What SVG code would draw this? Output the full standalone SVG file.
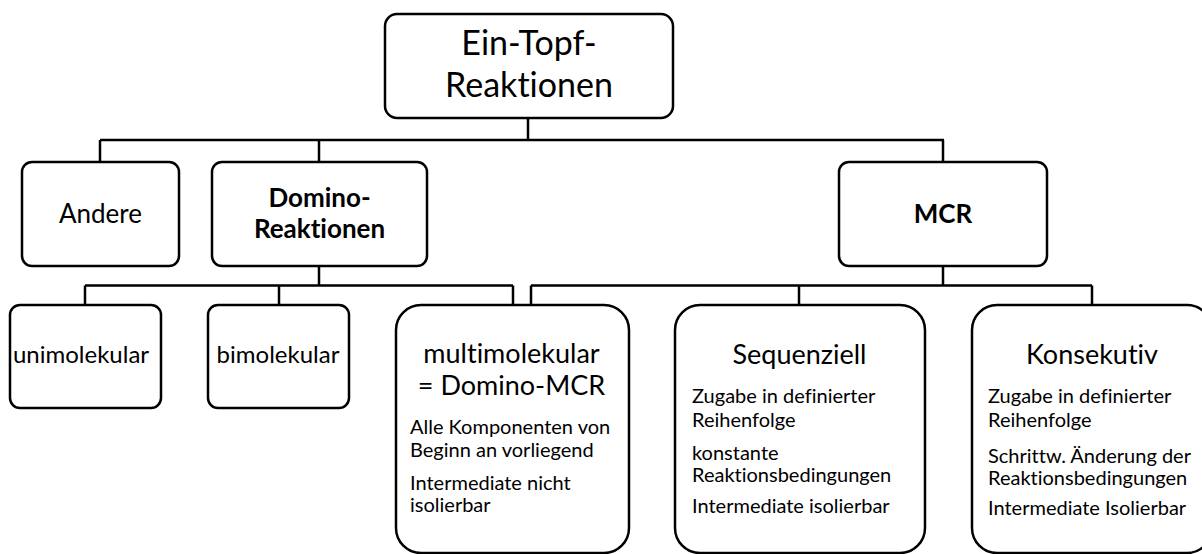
<svg xmlns="http://www.w3.org/2000/svg" width="1202" height="554" viewBox="0 0 1202 554">
<style>
.box{fill:#fff;stroke:#000;stroke-width:2.5}
.con{fill:none;stroke:#000;stroke-width:2.5}
text{font-family:Lato,"Open Sans","Liberation Sans",sans-serif;fill:#000;font-variant-ligatures:none;font-feature-settings:"liga" 0,"clig" 0}
.c{text-anchor:middle}
.t1{font-size:34px}
.t2{font-size:26px}
.b{font-size:26px;font-weight:bold}
.s{font-size:24px}
.h{font-size:27px}
.p{font-size:20px}
</style>
<rect width="1202" height="554" fill="#fff"/>
<g id="connectors">
<path class="con" d="M528,118V140M100,140H944M100,140V162M319,140V162M943,140V162"/>
<path class="con" d="M319,266V285.5M85,285.5H513M85,285.5V305M279,285.5V305M513,285.5V305"/>
<path class="con" d="M943,266V285.5M531,285.5H1092M531,285.5V305M799,285.5V305M1092,285.5V305"/>
</g>
<g id="n-eintopf">
<rect class="box" x="385" y="14" width="288" height="104" rx="12"/>
<text class="c t1" x="529" y="55">Ein-Topf-</text>
<text class="c t1" x="529" y="97">Reaktionen</text>
</g>
<g id="n-andere">
<rect class="box" x="22" y="162" width="157" height="104" rx="10"/>
<text class="c t2" x="100.5" y="223">Andere</text>
</g>
<g id="n-domino">
<rect class="box" x="212" y="162" width="215" height="104" rx="10"/>
<text class="c b" x="319.5" y="207">Domino-</text>
<text class="c b" x="319.5" y="238">Reaktionen</text>
</g>
<g id="n-mcr">
<rect class="box" x="839" y="162" width="208" height="104" rx="10"/>
<text class="c b" x="943" y="223">MCR</text>
</g>
<g id="n-uni">
<rect class="box" x="10" y="305" width="151" height="103" rx="10"/>
<text class="c s" x="81" y="363">unimolekular</text>
</g>
<g id="n-bi">
<rect class="box" x="208" y="305" width="141" height="103" rx="10"/>
<text class="c s" x="278" y="363">bimolekular</text>
</g>
<g id="n-multi">
<rect class="box" x="396" y="305" width="233" height="248" rx="25"/>
<text class="c h" x="511.5" y="363">multimolekular</text>
<text class="c h" x="511.5" y="395">= Domino-MCR</text>
<text class="p" x="410" y="434">Alle Komponenten von</text>
<text class="p" x="410" y="457">Beginn an vorliegend</text>
<text class="p" x="410" y="490">Intermediate nicht</text>
<text class="p" x="410" y="512">isolierbar</text>
</g>
<g id="n-seq">
<rect class="box" x="675" y="305" width="250" height="248" rx="25"/>
<text class="c h" x="799.5" y="364">Sequenziell</text>
<text class="p" x="692" y="403">Zugabe in definierter</text>
<text class="p" x="692" y="427">Reihenfolge</text>
<text class="p" x="692" y="460">konstante</text>
<text class="p" x="692" y="482">Reaktionsbedingungen</text>
<text class="p" x="692" y="513">Intermediate isolierbar</text>
</g>
<g id="n-kons">
<rect class="box" x="972" y="305" width="240" height="248" rx="25"/>
<text class="c h" x="1092" y="364">Konsekutiv</text>
<text class="p" x="988" y="403">Zugabe in definierter</text>
<text class="p" x="988" y="427">Reihenfolge</text>
<text class="p" x="988" y="463">Schrittw. Änderung der</text>
<text class="p" x="988" y="485">Reaktionsbedingungen</text>
<text class="p" x="988" y="515">Intermediate Isolierbar</text>
</g>
</svg>
